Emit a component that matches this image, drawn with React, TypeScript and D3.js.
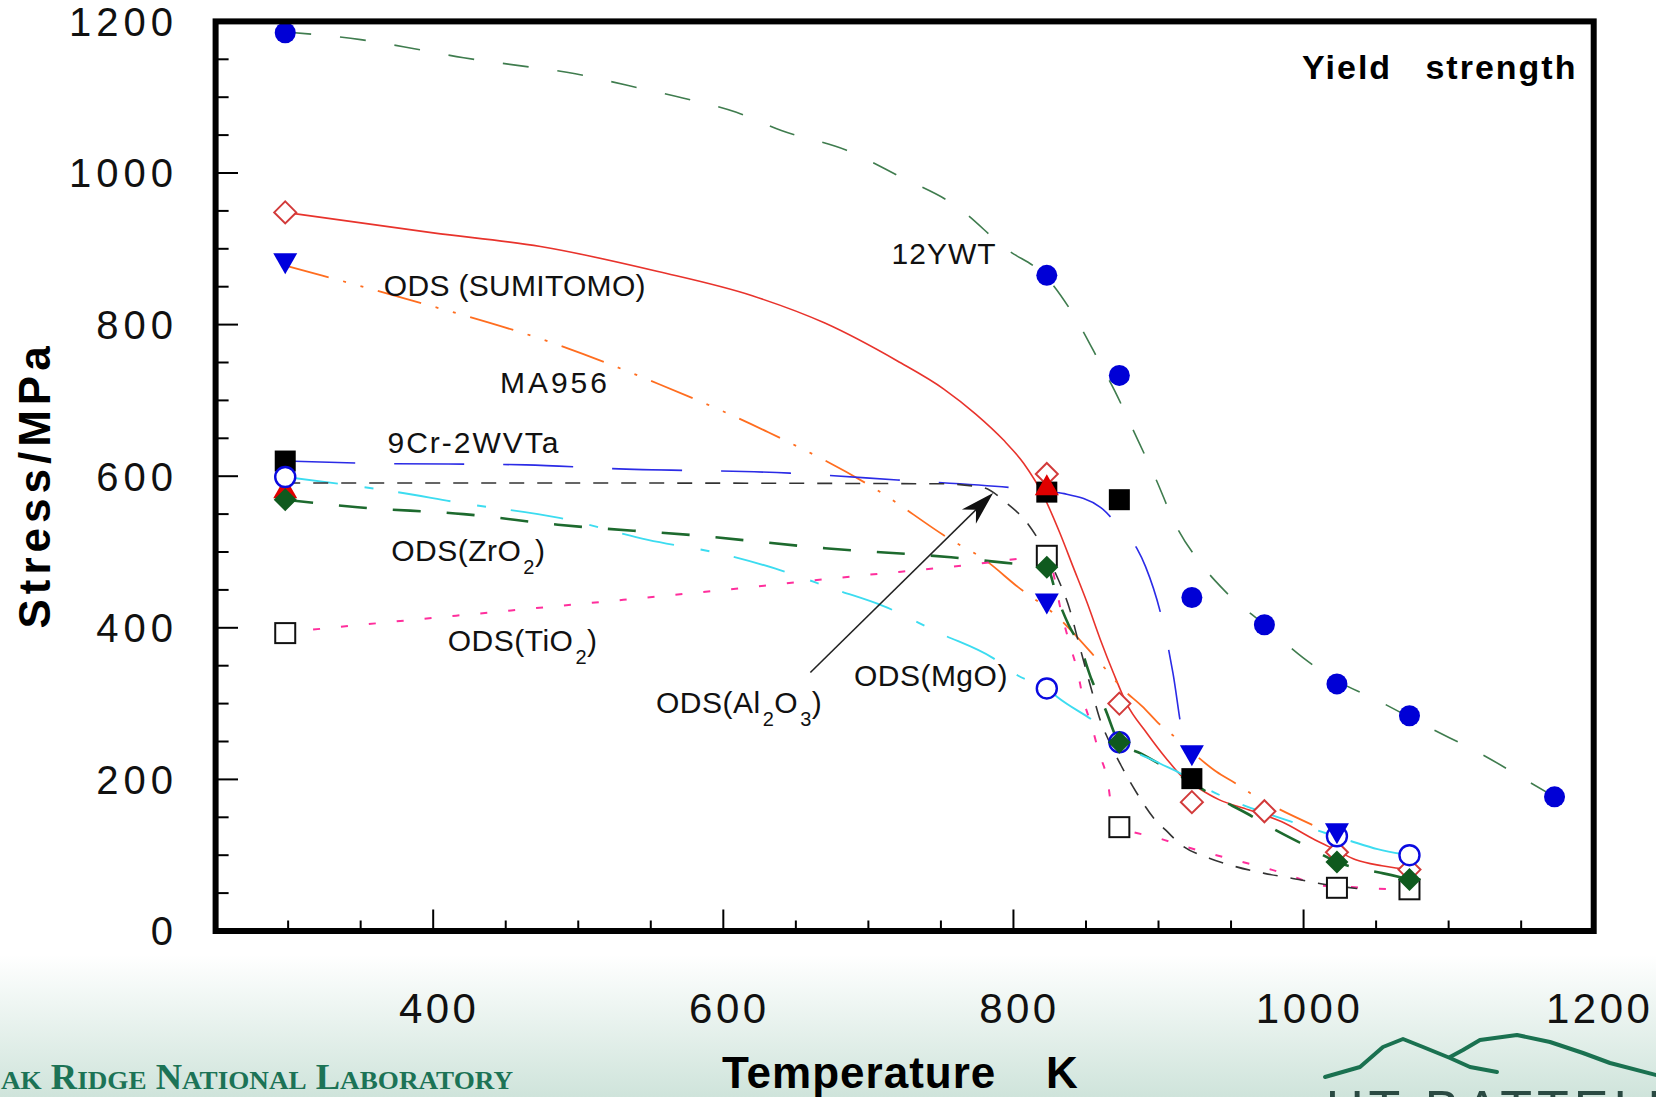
import React from 'react';
import * as d3 from 'd3';

type P = [number, number];

// ---------- axis ticks ----------
const X_MAJOR_TICKS = [400, 600, 800, 1000, 1200];
const X_MINOR_TICKS = [300, 350, 450, 500, 550, 650, 700, 750, 850, 900, 950, 1050, 1100, 1150];
const Y_MAJOR_TICKS = [0, 200, 400, 600, 800, 1000, 1200];
const Y_MINOR_TICKS = [50, 100, 150, 250, 300, 350, 450, 500, 550, 650, 700, 750, 850, 900, 950, 1050, 1100, 1150];

// ---------- measured points (Temperature K, Stress MPa) ----------
const temp12YWT = [298, 823, 873, 923, 973, 1023, 1073, 1173];
const stress12YWT = [1185, 865, 733, 440, 404, 326, 284, 177];

const tempSumitomo = [298, 823, 873, 923, 973, 1023, 1073];
const stressSumitomo = [948, 603, 300, 170, 158, 104, 81];

const tempMA956 = [298, 823, 923, 1023];
const stressMA956 = [881, 432, 232, 129];

const temp9Cr = [298, 823, 873, 923];
const stress9Cr = [620, 579, 569, 201];

const tempZrO2 = [298, 823, 873, 1023, 1073];
const stressZrO2 = [569, 480, 249, 91, 68];

const tempMgO = [298, 823, 873, 1023, 1073];
const stressMgO = [599, 320, 249, 125, 100];

const tempTiO2 = [298, 823, 873, 1023, 1073];
const stressTiO2 = [393, 495, 137, 57, 55];

const tempAl2O3 = [298, 823];
const stressAl2O3 = [584, 588];

// ---------- fitted curves ----------
const fit12YWT: P[] = [[298,1186],[350,1176],[387,1164],[421,1152],[458,1142],[498,1131],[533,1116],[572,1099],[609,1080],[640,1056],[685,1030],[722,995],[760,957],[795,900],[823,862],[842,811],[860,748],[870,712],[882,663],[898,597],[912,535],[929,485],[945,450],[973,404],[1000,360],[1023,330],[1047,308],[1087,268],[1122,234],[1157,195],[1173,177]];
const fitSumitomo: P[] = [[298,948],[400,921],[474,903],[555,870],[620,838],[670,802],[720,752],[752,715],[774,682],[793,648],[807,617],[821,573],[832,525],[841,481],[851,432],[860,384],[869,340],[878,300],[892,261],[906,226],[916,204],[928,188],[942,173],[962,160],[985,144],[1008,120],[1022,107],[1036,94],[1054,86],[1077,80]];
const fitMA956: P[] = [[298,878],[323,865],[385,832],[482,776],[555,722],[631,658],[705,583],[757,516],[780,490],[803,454],[830,415],[856,362],[866,340],[875,320],[889,296],[899,276],[915,250],[928,228],[940,210],[953,195],[964,181],[974,170],[1006,140]];
const fit9Cr: P[] = [[298,620],[357,617],[464,615],[523,610],[646,604],[720,595],[798,585],[823,580],[835,577],[860,559],[873,533],[885,505],[891,481],[905,390],[910,340],[917,256],[921,236]];
const fitZrO2: P[] = [[298,569],[348,559],[421,550],[486,536],[580,522],[670,505],[757,493],[808,483],[823,480],[830,441],[838,404],[846,375],[854,331],[863,294],[873,249],[888,234],[910,210],[941,175],[961,155],[979,135],[998,116],[1029,87],[1037,83],[1055,76],[1073,68]];
const fitMgO: P[] = [[298,599],[372,580],[421,564],[487,545],[548,516],[600,497],[636,478],[678,450],[710,429],[749,393],[786,360],[803,337],[823,320],[830,309],[861,269],[873,249],[901,221],[915,208],[933,188],[956,168],[978,153],[1009,133],[1032,119],[1051,108],[1073,100]];
const fitTiO2: P[] = [[298,394],[372,408],[471,426],[580,446],[695,469],[769,483],[808,492],[823,495],[834,412],[839,377],[844,344],[848,307],[854,270],[859,235],[865,197],[868,158],[873,137],[880,132],[899,123],[919,111],[936,102],[956,92],[976,82],[994,71],[1012,60],[1033,58],[1050,56],[1073,55]];
const fitAl2O3: P[] = [[298,591],[500,591],[750,590],[779,585],[795,565],[810,537],[829,472],[839,423],[845,380],[855,310],[859,283],[866,250],[874,219],[885,182],[898,146],[905,133],[916,113],[935,96],[953,85],[973,76],[991,70],[1010,63],[1037,56]];

// ---------- annotations (data coordinates) ----------
const arrowAl2O3: P[] = [[660, 341], [786, 578]];

const FONT = "'Liberation Sans', Arial, Helvetica, sans-serif";

export default function App() {
  const x = d3.scaleLinear().domain([250, 1200]).range([215.6, 1593.7]);
  const y = d3.scaleLinear().domain([0, 1200]).range([931, 21.4]);
  const line = d3.line<P>().x(d => x(d[0])).y(d => y(d[1])).curve(d3.curveMonotoneX);

  const zip = (t: number[], s: number[]) => t.map((v, i) => [v, s[i]] as P);

  const lines = [
    { d: fit12YWT, color: '#3f7c4e', w: 1.6, dash: '26 29' },
    { d: fitSumitomo, color: '#e8332c', w: 1.6, dash: undefined },
    { d: fitMA956, color: '#ff6d1f', w: 1.8, dash: '45 15 3 15 3 15' },
    { d: fit9Cr, color: '#2b2be6', w: 1.6, dash: '70 39' },
    { d: fitZrO2, color: '#1d6a2e', w: 2.6, dash: '28 26' },
    { d: fitMgO, color: '#3cdcf0', w: 1.9, dash: '53 27 9 25' },
    { d: fitTiO2, color: '#ff2e9c', w: 2, dash: '7 21' },
    { d: fitAl2O3, color: '#333333', w: 1.6, dash: '15 13' },
  ];

  const diamond = (cx: number, cy: number, h: number) => `M${cx},${cy - h}L${cx + h},${cy}L${cx},${cy + h}L${cx - h},${cy}Z`;
  const triDown = (cx: number, cy: number) => `M${cx - 12},${cy - 10}L${cx + 12},${cy - 10}L${cx},${cy + 11}Z`;
  const triUp = (cx: number, cy: number) => `M${cx},${cy - 11}L${cx + 12},${cy + 10}L${cx - 12},${cy + 10}Z`;

  const [a0, a1] = arrowAl2O3;
  const ax0 = x(a0[0]), ay0 = y(a0[1]), ax1 = x(a1[0]), ay1 = y(a1[1]);
  const len = Math.hypot(ax1 - ax0, ay1 - ay0);
  const ux = (ax1 - ax0) / len, uy = (ay1 - ay0) / len;
  const nx = -uy, ny = ux;
  const headPath = `M${ax1},${ay1}L${ax1 - 34 * ux + 10 * nx},${ay1 - 34 * uy + 10 * ny}L${ax1 - 24 * ux},${ay1 - 24 * uy}L${ax1 - 34 * ux - 10 * nx},${ay1 - 34 * uy - 10 * ny}Z`;

  const labels: { t: number; s: number; parts: [string, boolean][]; ls?: number }[] = [
    { t: 716, s: 880, parts: [['12YWT', false]], ls: 1 },
    { t: 366, s: 838, parts: [['ODS (SUMITOMO)', false]], ls: 0.3 },
    { t: 446, s: 710, parts: [['MA956', false]], ls: 3 },
    { t: 368.5, s: 630, parts: [['9Cr-2WVTa', false]], ls: 2 },
    { t: 371, s: 488, parts: [['ODS(ZrO', false], ['2', true], [')', false]] },
    { t: 410, s: 369, parts: [['ODS(TiO', false], ['2', true], [')', false]] },
    { t: 553.6, s: 288, parts: [['ODS(Al', false], ['2', true], ['O', false], ['3', true], [')', false]] },
    { t: 690, s: 323, parts: [['ODS(MgO)', false]] },
  ];

  const mountainLeft: P[] = [[1325,1077],[1360,1067],[1383,1047],[1403,1039],[1423,1047],[1450,1058],[1470,1067],[1497,1072]];
  const mountainRight: P[] = [[1450,1057],[1463,1050],[1480,1040],[1517,1035],[1550,1042],[1583,1053],[1610,1063],[1660,1076]];
  const poly = (pts: P[]) => 'M' + pts.map(p => p.join(',')).join('L');

  return (
    <svg width={1656} height={1097} style={{ position: 'absolute', left: 0, top: 0, display: 'block' }} xmlns="http://www.w3.org/2000/svg">
      <defs>
        <linearGradient id="foot" x1="0" y1="0" x2="0" y2="1">
          <stop offset="0" stopColor="#ffffff" />
          <stop offset="1" stopColor="#cfe4db" />
        </linearGradient>
      </defs>
      <rect x={0} y={0} width={1656} height={1097} fill="#fff" />
      <rect x={0} y={955} width={1656} height={142} fill="url(#foot)" />

      {/* footer */}
      <text x={1} y={1089} fontFamily="'Liberation Serif', 'Times New Roman', serif" fontWeight="bold" fill="#1c7356" fontSize={35} textLength={512} lengthAdjust="spacingAndGlyphs">
        <tspan fontSize={26}>AK</tspan> R<tspan fontSize={26}>IDGE</tspan> N<tspan fontSize={26}>ATIONAL</tspan> L<tspan fontSize={26}>ABORATORY</tspan>
      </text>
      <path d={poly(mountainLeft)} fill="none" stroke="#1a7150" strokeWidth={4} strokeLinejoin="round" strokeLinecap="round" />
      <path d={poly(mountainRight)} fill="none" stroke="#1a7150" strokeWidth={4} strokeLinejoin="round" strokeLinecap="round" />
      <text x={1326} y={1127} fontFamily={FONT} fontSize={52} fill="#2a4a42" style={{ letterSpacing: '5px' }}>UT-BATTELLE</text>

      {/* fitted lines */}
      {lines.map((l, i) => (
        <path key={i} d={line(l.d) || ''} fill="none" stroke={l.color} strokeWidth={l.w} strokeDasharray={l.dash} />
      ))}

      {/* arrow */}
      <line x1={ax0} y1={ay0} x2={ax1 - 20 * ux} y2={ay1 - 20 * uy} stroke="#222" strokeWidth={1.6} />
      <path d={headPath} fill="#111" />

      {/* markers */}
      {zip(tempTiO2, stressTiO2).map((p, i) => (
        <rect key={'ts' + i} x={x(p[0]) - 10} y={y(p[1]) - 10} width={20} height={20} fill="#fff" stroke="#111" strokeWidth={2} />
      ))}
      {zip(tempSumitomo, stressSumitomo).map((p, i) => (
        <path key={'sd' + i} d={diamond(x(p[0]), y(p[1]), 11)} fill="#fff" stroke="#d23a3a" strokeWidth={2} />
      ))}
      {zip(temp9Cr, stress9Cr).map((p, i) => (
        <rect key={'cr' + i} x={x(p[0]) - 10.5} y={y(p[1]) - 10.5} width={21} height={21} fill="#000" />
      ))}
      {zip(tempAl2O3, stressAl2O3).map((p, i) => (
        <path key={'al' + i} d={triUp(x(p[0]), y(p[1]))} fill="#e00000" />
      ))}
      {zip(tempMgO, stressMgO).map((p, i) => (
        <circle key={'mg' + i} cx={x(p[0])} cy={y(p[1])} r={10} fill="#fff" stroke="#0a0ae0" strokeWidth={2.4} />
      ))}
      {zip(tempMA956, stressMA956).map((p, i) => (
        <path key={'ma' + i} d={triDown(x(p[0]), y(p[1]))} fill="#0000dd" />
      ))}
      {zip(tempZrO2, stressZrO2).map((p, i) => (
        <path key={'zr' + i} d={diamond(x(p[0]), y(p[1]), 11.5)} fill="#0f5a1e" />
      ))}
      {zip(temp12YWT, stress12YWT).map((p, i) => (
        <circle key={'yw' + i} cx={x(p[0])} cy={y(p[1])} r={10.5} fill="#0000d6" />
      ))}

      {/* series labels */}
      {labels.map((lb, i) => (
        <text key={'lb' + i} x={x(lb.t)} y={y(lb.s)} fontFamily={FONT} fontSize={30} fill="#111" style={{ letterSpacing: `${lb.ls ?? 0.5}px` }}>
          {lb.parts.map((pt, j) => (
            <tspan key={j} fontSize={pt[1] ? 20 : 30} dy={pt[1] ? 13 : (j > 0 && lb.parts[j - 1][1] ? -13 : 0)} dx={pt[1] ? 2 : 0}>{pt[0]}</tspan>
          ))}
        </text>
      ))}

      {/* Yield strength */}
      <text x={x(999)} y={y(1124.5)} fontFamily={FONT} fontWeight="bold" fontSize={34} fill="#000" style={{ letterSpacing: '2px' }}>Yield</text>
      <text x={x(1084)} y={y(1124.5)} fontFamily={FONT} fontWeight="bold" fontSize={34} fill="#000" style={{ letterSpacing: '2px' }}>strength</text>

      {/* ticks */}
      {Y_MINOR_TICKS.map(v => (
        <line key={'ymi' + v} x1={215.6} x2={228.6} y1={y(v)} y2={y(v)} stroke="#000" strokeWidth={2} />
      ))}
      {Y_MAJOR_TICKS.filter(v => v > 0 && v < 1200).map(v => (
        <line key={'yma' + v} x1={215.6} x2={238} y1={y(v)} y2={y(v)} stroke="#000" strokeWidth={2} />
      ))}
      {X_MINOR_TICKS.map(v => (
        <line key={'xmi' + v} x1={x(v)} x2={x(v)} y1={931} y2={920.5} stroke="#000" strokeWidth={2} />
      ))}
      {X_MAJOR_TICKS.filter(v => v < 1200).map(v => (
        <line key={'xma' + v} x1={x(v)} x2={x(v)} y1={931} y2={909.5} stroke="#000" strokeWidth={2} />
      ))}

      {/* frame */}
      <rect x={215.6} y={21.4} width={1593.7 - 215.6} height={931 - 21.4} fill="none" stroke="#000" strokeWidth={6} />

      {/* tick labels */}
      {Y_MAJOR_TICKS.map(v => (
        <text key={'yl' + v} x={178} y={y(v)} dy="0.36em" textAnchor="end" fontFamily={FONT} fontSize={40} fill="#111" style={{ letterSpacing: '5px' }}>{v}</text>
      ))}
      {X_MAJOR_TICKS.map(v => (
        <text key={'xl' + v} x={x(v) + 6} y={1023} textAnchor="middle" fontFamily={FONT} fontSize={42} fill="#111" style={{ letterSpacing: '3.5px' }}>{v}</text>
      ))}

      {/* axis titles */}
      <text x={722} y={1088} fontFamily={FONT} fontWeight="bold" fontSize={44} fill="#000" style={{ letterSpacing: '1px' }}>Temperature</text>
      <text x={1046} y={1088} fontFamily={FONT} fontWeight="bold" fontSize={44} fill="#000">K</text>
      <text transform="translate(50,485) rotate(-90)" textAnchor="middle" fontFamily={FONT} fontWeight="bold" fontSize={44} fill="#000" style={{ letterSpacing: '5px' }}>Stress/MPa</text>
    </svg>
  );
}
